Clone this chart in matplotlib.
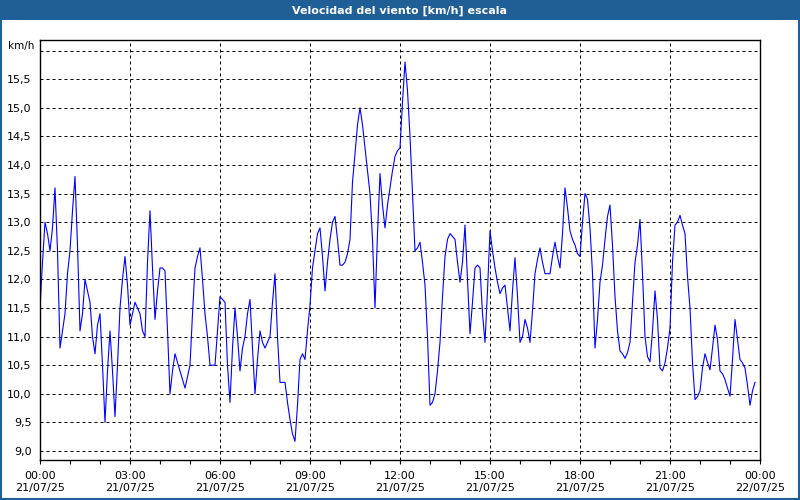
import pandas as pd
import numpy as np
import matplotlib
matplotlib.use('Agg')
import matplotlib.pyplot as plt
import matplotlib.dates as mdates
from matplotlib.patches import Rectangle
from matplotlib.ticker import FuncFormatter

# velocidad del viento cada 5 minutos, 21/07/25 00:00 - 23:50
velocidad = [
    11.5, 12.3, 13.0, 12.8, 12.5, 12.9, 13.6, 12.5, 10.8, 11.1, 11.4, 12.1,
    12.5, 13.2, 13.8, 12.6, 11.1, 11.4, 12.0, 11.8, 11.6, 11.0, 10.7, 11.2,
    11.4, 10.5, 9.5, 10.4, 11.1, 10.4, 9.6, 10.5, 11.5, 12.0, 12.4, 11.9,
    11.2, 11.4, 11.6, 11.5, 11.4, 11.1, 11.0, 12.3, 13.2, 12.2, 11.3, 11.8,
    12.2, 12.2, 12.15, 11.1, 10.0, 10.4, 10.7, 10.55, 10.4, 10.25, 10.1, 10.3,
    10.5, 11.4, 12.2, 12.4, 12.55, 12.0, 11.4, 11.0, 10.5, 10.5, 10.5, 11.1,
    11.7, 11.65, 11.6, 10.5, 9.85, 10.8, 11.5, 11.0, 10.4, 10.8, 11.0, 11.4,
    11.65, 10.8, 10.0, 10.6, 11.1, 10.9, 10.8, 10.9, 11.0, 11.6, 12.1, 11.0,
    10.2, 10.2, 10.2, 9.85, 9.55, 9.3, 9.17, 9.8, 10.6, 10.7, 10.6, 11.1,
    11.55, 12.2, 12.5, 12.8, 12.9, 12.4, 11.8, 12.3, 12.7, 13.0, 13.1, 12.7,
    12.25, 12.25, 12.3, 12.45, 12.7, 13.7, 14.2, 14.7, 15.0, 14.7, 14.3, 13.9,
    13.5, 12.7, 11.5, 12.8, 13.85, 13.3, 12.9, 13.3, 13.6, 13.9, 14.15, 14.25,
    14.3, 15.1, 15.8, 15.3, 14.5, 13.5, 12.5, 12.55, 12.65, 12.3, 11.9, 11.0,
    9.8, 9.85, 10.0, 10.4, 10.9, 11.7, 12.4, 12.7, 12.8, 12.75, 12.7, 12.3,
    11.95, 12.3, 12.95, 12.0, 11.05, 11.6, 12.2, 12.25, 12.2, 11.4, 10.9, 11.8,
    12.85, 12.5, 12.2, 11.95, 11.75, 11.85, 11.9, 11.5, 11.1, 11.8, 12.38, 11.7,
    10.9, 11.0, 11.3, 11.15, 10.9, 11.45, 12.1, 12.35, 12.55, 12.3, 12.1, 12.1,
    12.1, 12.4, 12.65, 12.4, 12.2, 12.8, 13.6, 13.25, 12.85, 12.7, 12.6, 12.45,
    12.4, 13.0, 13.5, 13.4, 12.9, 12.1, 10.8, 11.3, 11.95, 12.25, 12.7, 13.1,
    13.3, 12.6, 11.7, 11.1, 10.75, 10.7, 10.62, 10.72, 10.9, 11.6, 12.3, 12.6,
    13.05, 12.1, 11.0, 10.65, 10.56, 11.1, 11.8, 11.3, 10.45, 10.4, 10.54, 10.8,
    11.15, 12.3, 12.95, 13.0, 13.12, 12.95, 12.8, 12.05, 11.5, 10.55, 9.9, 9.95,
    10.05, 10.45, 10.7, 10.55, 10.42, 10.8, 11.2, 10.95, 10.4, 10.35, 10.25, 10.1,
    9.96, 10.6, 11.3, 10.95, 10.6, 10.54, 10.45, 10.15, 9.8, 10.05, 10.2,
]
inicio = '2025-07-21 00:00'
fin = '2025-07-22 00:00'
y_ticks = [9.0, 9.5, 10.0, 10.5, 11.0, 11.5, 12.0, 12.5, 13.0, 13.5, 14.0, 14.5, 15.0, 15.5, 16.0]
titulo = 'Velocidad del viento [km/h] escala'
unidad = 'km/h'

horas = pd.date_range(inicio, periods=len(velocidad), freq='5min')
df = pd.DataFrame({'hora': horas, 'velocidad': velocidad})

azul_marco = '#1f5f96'

fig = plt.figure(figsize=(8, 5), dpi=100)
fig.patch.set_facecolor('white')
ax = fig.add_axes([0.05, 0.08, 0.90, 0.84])

ax.plot(df['hora'], df['velocidad'], color='#0000ff', linewidth=0.8)

ax.set_xlim(pd.Timestamp(inicio), pd.Timestamp(fin))
ax.set_ylim(8.843, 16.185)

ax.xaxis.set_major_locator(mdates.HourLocator(byhour=range(0, 24, 3)))
ax.xaxis.set_minor_locator(mdates.HourLocator())
ax.xaxis.set_major_formatter(mdates.DateFormatter('%H:%M\n%d/%m/%y'))

ax.set_yticks(y_ticks)
ax.yaxis.set_major_formatter(FuncFormatter(
    lambda v, p: '' if v >= 15.9 else f'{v:.1f}'.replace('.', ',')))

ax.tick_params(axis='x', which='major', length=3, width=0.8, pad=5, labelsize=8)
ax.tick_params(axis='x', which='minor', length=3, width=0.8)
ax.tick_params(axis='y', length=0, pad=6, labelsize=8)

ax.grid(True, which='major', color='black', linestyle=(0, (3, 3)), linewidth=0.72)
for s in ax.spines.values():
    s.set_linewidth(1.0)
    s.set_color('black')

fig.text(0.043, 0.909, unidad, fontsize=7.5, ha='right', va='center')

# barra del titulo y marco
fig.patches.append(Rectangle((0, 0.96), 1, 0.04, transform=fig.transFigure,
                             facecolor=azul_marco, edgecolor='none', zorder=0))
fig.patches.append(Rectangle((0.001, 0.002), 0.998, 0.997, transform=fig.transFigure,
                             fill=False, edgecolor=azul_marco, linewidth=1.5))
fig.text(0.5, 0.979, titulo, color='white', fontsize=8, fontweight='bold',
         ha='center', va='center')

fig.savefig('out.png', dpi=100)
